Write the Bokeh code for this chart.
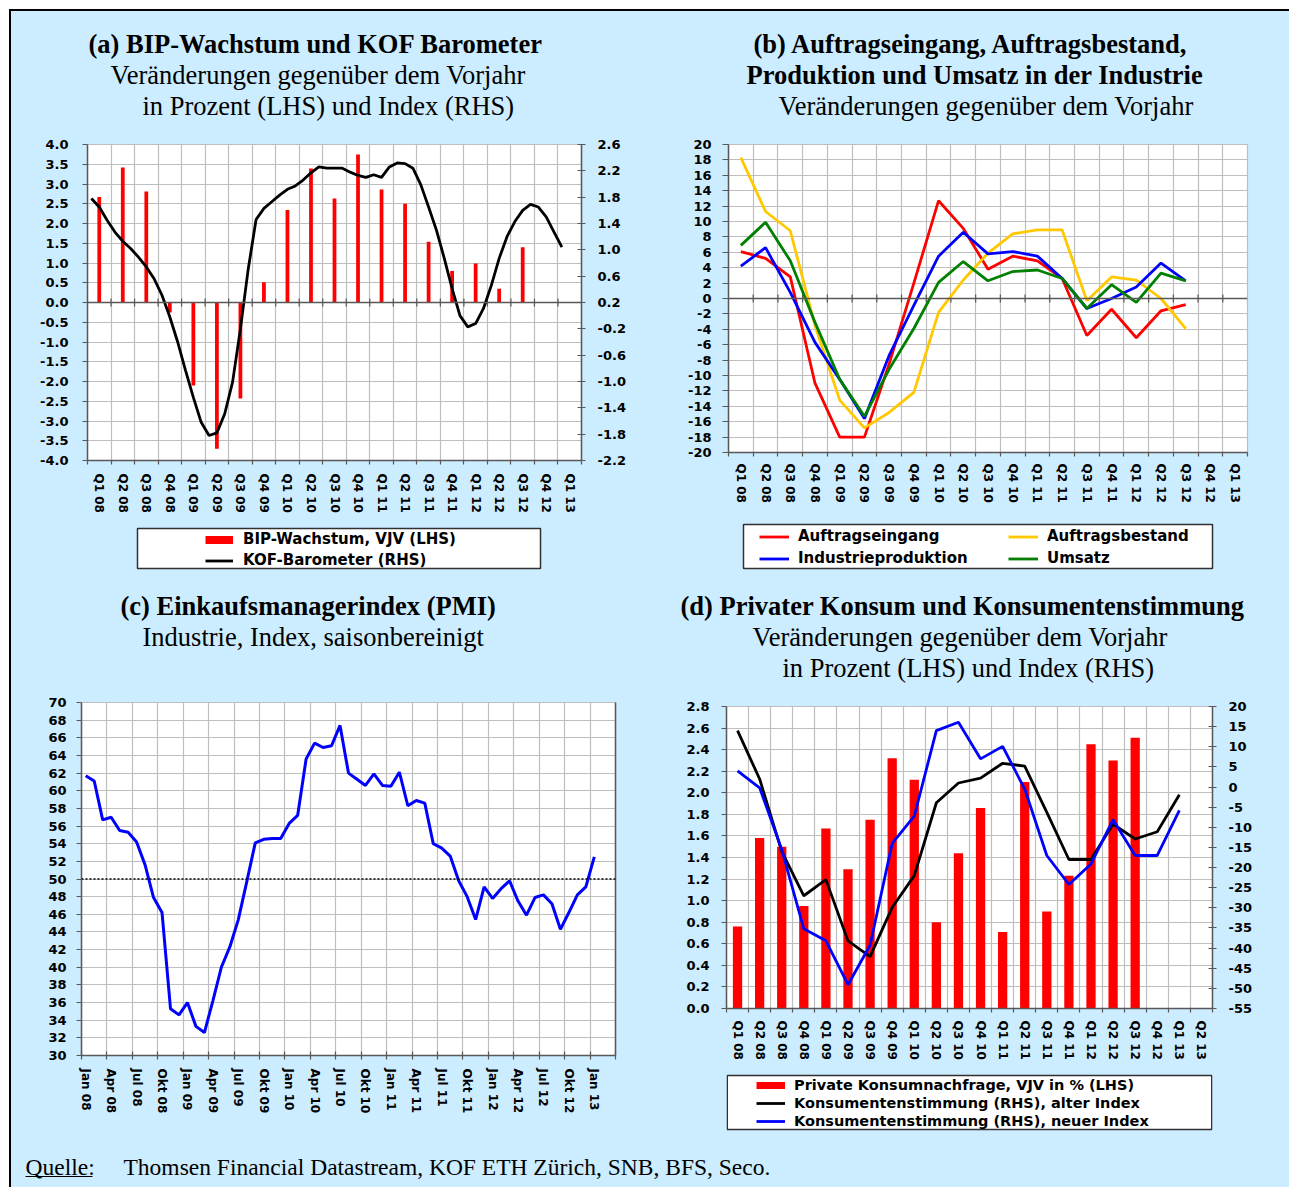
import numpy as np
from bokeh.plotting import figure
from bokeh.models import (Range1d, LinearAxis, FixedTicker, Span, Title, Legend,
                          LegendItem, Label, Spacer)
from bokeh.layouts import row, column
from bokeh.embed import file_html
from bokeh.resources import INLINE

# ---------------------------------------------------------------- data
quarters = ["Q1 08", "Q2 08", "Q3 08", "Q4 08", "Q1 09", "Q2 09", "Q3 09", "Q4 09",
            "Q1 10", "Q2 10", "Q3 10", "Q4 10", "Q1 11", "Q2 11", "Q3 11", "Q4 11",
            "Q1 12", "Q2 12", "Q3 12", "Q4 12", "Q1 13"]
quarters_d = quarters + ["Q2 13"]
months_c = ["Jan 08", "Apr 08", "Jul 08", "Okt 08", "Jan 09", "Apr 09", "Jul 09", "Okt 09",
            "Jan 10", "Apr 10", "Jul 10", "Okt 10", "Jan 11", "Apr 11", "Jul 11", "Okt 11",
            "Jan 12", "Apr 12", "Jul 12", "Okt 12", "Jan 13"]

# (a) quarterly GDP growth, monthly KOF barometer (Jan 08 .. Jan 13)
bip_growth = [2.67, 3.42, 2.81, -0.25, -2.10, -3.70, -2.43, 0.51, 2.34, 3.39,
              2.63, 3.75, 2.86, 2.50, 1.54, 0.80, 0.99, 0.35, 1.40]
kof_barometer = [1.78, 1.65, 1.45, 1.27, 1.13, 1.02, 0.89, 0.74, 0.56, 0.31,
                 -0.02, -0.40, -0.83, -1.24, -1.62, -1.82, -1.78, -1.49, -1.01, -0.20,
                 0.71, 1.46, 1.63, 1.73, 1.83, 1.92, 1.97, 2.06, 2.17, 2.26,
                 2.24, 2.24, 2.24, 2.18, 2.13, 2.10, 2.14, 2.10, 2.26, 2.32,
                 2.31, 2.24, 1.99, 1.65, 1.30, 0.87, 0.41, 0.00, -0.17, -0.12,
                 0.11, 0.46, 0.87, 1.20, 1.43, 1.60, 1.69, 1.65, 1.50, 1.27, 1.04]

# (b) industry, y/y change
auftragseingang = [6.1, 5.2, 2.8, -11.0, -18.0, -18.0, -8.5, 2.0, 12.7, 9.1,
                   3.8, 5.5, 4.9, 2.6, -4.8, -1.4, -5.1, -1.6, -0.8]
auftragsbestand = [18.3, 11.3, 8.8, -3.5, -13.2, -16.8, -14.8, -12.2, -1.8, 2.4,
                   5.9, 8.4, 8.9, 8.9, -0.3, 2.8, 2.4, 0.0, -3.9]
industrieproduktion = [4.2, 6.6, 0.8, -5.7, -10.5, -15.6, -7.4, -0.9, 5.5, 8.6,
                       5.8, 6.1, 5.5, 2.6, -1.3, 0.0, 1.5, 4.6, 2.3]
umsatz = [6.9, 9.9, 4.9, -3.1, -10.5, -15.3, -9.2, -3.9, 2.1, 4.8,
          2.3, 3.5, 3.7, 2.6, -1.3, 1.8, -0.5, 3.3, 2.3]

# (c) PMI, monthly Jan 08 .. Jan 13
pmi = [61.7, 61.1, 56.7, 57.0, 55.5, 55.3, 54.2, 51.6, 47.9, 46.2,
       35.3, 34.6, 36.0, 33.3, 32.6, 36.2, 40.0, 42.3, 45.4, 49.7,
       54.1, 54.5, 54.6, 54.6, 56.3, 57.2, 63.6, 65.4, 64.9, 65.1,
       67.4, 62.0, 61.3, 60.6, 61.9, 60.6, 60.5, 62.1, 58.3, 58.9,
       58.6, 54.0, 53.5, 52.6, 49.8, 48.0, 45.4, 49.1, 47.8, 48.9,
       49.8, 47.5, 45.9, 47.9, 48.2, 47.2, 44.3, 46.2, 48.2, 49.1, 52.5]
pmi_threshold = 50

# (d) private consumption and consumer sentiment
konsum = [0.76, 1.58, 1.50, 0.95, 1.67, 1.29, 1.75, 2.32, 2.12, 0.80,
          1.44, 1.86, 0.71, 2.10, 0.90, 1.23, 2.45, 2.30, 2.51]
stimmung_alt = [14.0, 2.0, -16.0, -27.0, -23.0, -38.2, -42.1, -29.9, -22.0, -3.9,
                1.0, 2.2, 5.9, 5.2, -6.3, -18.0, -18.0, -9.2, -12.9, -11.1, -1.9]
stimmung_neu = [4.0, -0.2, -15.5, -35.2, -38.2, -49.1, -39.3, -14.0, -7.2, 14.0,
                16.1, 7.0, 10.1, -0.5, -17.0, -24.2, -19.1, -8.1, -17.0, -17.0, -5.8]

# tick labels
ylab_a_left = ["4.0", "3.5", "3.0", "2.5", "2.0", "1.5", "1.0", "0.5", "0.0", "-0.5",
               "-1.0", "-1.5", "-2.0", "-2.5", "-3.0", "-3.5", "-4.0"]
ylab_a_right = ["2.6", "2.2", "1.8", "1.4", "1.0", "0.6", "0.2", "-0.2", "-0.6", "-1.0",
                "-1.4", "-1.8", "-2.2"]
ylab_b = ["20", "18", "16", "14", "12", "10", "8", "6", "4", "2", "0", "-2", "-4", "-6",
          "-8", "-10", "-12", "-14", "-16", "-18", "-20"]
ylab_c = ["70", "68", "66", "64", "62", "60", "58", "56", "54", "52", "50", "48", "46",
          "44", "42", "40", "38", "36", "34", "32", "30"]
ylab_d_left = ["2.8", "2.6", "2.4", "2.2", "2.0", "1.8", "1.6", "1.4", "1.2", "1.0",
               "0.8", "0.6", "0.4", "0.2", "0.0"]
ylab_d_right = ["20", "15", "10", "5", "0", "-5", "-10", "-15", "-20", "-25", "-30",
                "-35", "-40", "-45", "-50", "-55"]

# ---------------------------------------------------------------- styles
BG = "#CCECFF"
GRID = "#BEBEBE"
AXIS = "#585858"
RED = "#FF0000"
BLUE = "#0000FF"
YELLOW = "#FFC800"
GREEN = "#008000"
TICK_FONT = "DejaVu Sans"
SERIF = "Liberation Serif"
COLW = 639
BGSTYLE = {"background-color": BG}


def panel(width, height, left, right, top, bottom, xr, yr, outline=GRID):
    p = figure(width=width, height=height, x_range=Range1d(*xr), y_range=Range1d(*yr),
               toolbar_location=None, output_backend="svg", title=None,
               min_border_left=left, min_border_right=right,
               min_border_top=top, min_border_bottom=bottom,
               background_fill_color="white", border_fill_color=BG,
               outline_line_color=outline, outline_line_width=1.2)
    p.grid.grid_line_color = GRID
    p.grid.grid_line_width = 1.2
    return p


def style_y(ax, labels, tick_in, tick_out, standoff, size="13px"):
    ticks = [float(s) for s in labels]
    ax.ticker = FixedTicker(ticks=ticks)
    ax.major_label_overrides = dict(zip(ticks, labels))
    ax.major_tick_in = tick_in
    ax.major_tick_out = tick_out
    ax.minor_tick_line_color = None
    ax.major_tick_line_color = AXIS
    ax.major_tick_line_width = 1.2
    ax.axis_line_color = AXIS
    ax.axis_line_width = 1.5
    ax.major_label_standoff = standoff
    ax.major_label_text_font = TICK_FONT
    ax.major_label_text_font_style = "bold"
    ax.major_label_text_font_size = size
    ax.major_label_text_color = "black"


def style_x(p, bounds, positions, labels, tick_in, tick_out, standoff):
    ax = p.xaxis[0]
    ax.ticker = FixedTicker(ticks=bounds)
    ax.major_label_overrides = {b: "" for b in bounds}
    ax.major_label_text_font_size = "1px"
    ax.major_label_standoff = 0
    ax.major_tick_in = tick_in
    ax.major_tick_out = tick_out
    ax.minor_tick_line_color = None
    ax.major_tick_line_color = AXIS
    ax.major_tick_line_width = 1.2
    ax.axis_line_color = AXIS
    ax.axis_line_width = 1.5
    lab = LinearAxis(ticker=FixedTicker(ticks=positions),
                     major_label_overrides=dict(zip(positions, labels)),
                     major_tick_in=0, major_tick_out=0, minor_tick_line_color=None,
                     axis_line_color=None, major_label_orientation="vertical",
                     major_label_standoff=standoff, major_label_text_font=TICK_FONT,
                     major_label_text_font_style="bold", major_label_text_font_size="12px",
                     major_label_text_color="black")
    p.add_layout(lab, "below")


def add_titles(p, lines, gap):
    p.add_layout(Title(text=" ", text_font_size="1px", standoff=gap), "above")
    for text, bold, off in reversed(lines):
        p.add_layout(Title(text=text, align="left", offset=off, text_font=SERIF,
                           text_font_size="26.5px",
                           text_font_style="bold" if bold else "normal",
                           text_color="black", standoff=-1), "above")


def legend_strip(height, left, right, box, items, size, **kw):
    """A strip below a panel: its frame has the panel's horizontal extent
    (so that the column aligns both), the legend box is drawn in pixel units."""
    fw = COLW - left - right
    p = figure(width=COLW, height=height, x_range=Range1d(0, fw), y_range=Range1d(0, height),
               toolbar_location=None, output_backend="svg", title=None,
               x_axis_location=None, y_axis_location=None,
               min_border_left=left, min_border_right=right,
               min_border_top=0, min_border_bottom=0,
               background_fill_color=BG, border_fill_color=BG, outline_line_color=None)
    p.grid.visible = False
    bx0, bx1, by0, by1 = box
    p.quad(left=[bx0], right=[bx1], bottom=[by0], top=[by1], fill_color="white",
           line_color="#303030", line_width=1.5)
    litems = []
    for label, color, lw in items:
        r = p.line(x=[np.nan], y=[np.nan], line_color=color, line_width=lw)
        litems.append(LegendItem(label=label, renderers=[r]))
    leg = Legend(items=litems, padding=0, margin=0, border_line_color=None,
                 background_fill_alpha=0, label_text_font=TICK_FONT,
                 label_text_font_style="bold", label_text_font_size=size,
                 label_text_color="black", **kw)
    p.add_layout(leg)
    return p


# ---------------------------------------------------------------- (a)
nq = len(quarters)
q_pos = [i + 0.5 for i in range(nq)]
q_bounds = list(range(nq + 1))
ya = [float(s) for s in ylab_a_left]
yar = [float(s) for s in ylab_a_right]

pa = panel(COLW, 514, 76, 69, 133, 65, (0, nq), (min(ya), max(ya)))
pa.extra_y_ranges = {"kof": Range1d(min(yar), max(yar))}
style_x(pa, q_bounds, q_pos, quarters, 0, 4, 9)
style_y(pa.yaxis[0], ylab_a_left, 0, 5, 14)
rax = LinearAxis(y_range_name="kof")
style_y(rax, ylab_a_right, 4, 4, 12)
pa.add_layout(rax, "right")
pa.add_layout(Span(location=0, dimension="width", line_color=AXIS, line_width=1.5))
pa.scatter(x=q_bounds[1:-1], y=[0] * (nq - 1), marker="dash", angle=np.pi / 2, size=8,
           line_color=AXIS, line_width=1.2)
pa.vbar(x=q_pos[:len(bip_growth)], top=bip_growth, width=0.16, fill_color=RED, line_color=None)
kof_x = np.arange(len(kof_barometer)) / 3 + 1 / 6
pa.line(kof_x, kof_barometer, y_range_name="kof", line_color="black", line_width=2.8)
add_titles(pa, [("(a) BIP-Wachstum und KOF Barometer", True, 1),
                ("Veränderungen gegenüber dem Vorjahr", False, 23),
                ("in Prozent (LHS) und Index (RHS)", False, 55)], 21)

la = legend_strip(60, 76, 69, (50, 453, 17, 57),
                  [("BIP-Wachstum, VJV (LHS)", RED, 8), ("KOF-Barometer (RHS)", "black", 2.8)],
                  "15px", location=(118, 16), glyph_width=28, glyph_height=17, label_height=17,
                  label_standoff=10, spacing=3)

# ---------------------------------------------------------------- (b)
yb = [float(s) for s in ylab_b]
pb = panel(COLW, 511, 78, 42, 133, 70, (0, nq), (min(yb), max(yb)))
style_x(pb, q_bounds, q_pos, quarters, 0, 4, 7)
style_y(pb.yaxis[0], ylab_b, 0, 6, 11)
pb.add_layout(Span(location=0, dimension="width", line_color=AXIS, line_width=1.5))
pb.scatter(x=q_bounds[1:-1], y=[0] * (nq - 1), marker="dash", angle=np.pi / 2, size=8,
           line_color=AXIS, line_width=1.2)
for series, color in [(auftragseingang, RED), (auftragsbestand, YELLOW),
                      (industrieproduktion, BLUE), (umsatz, GREEN)]:
    pb.line(q_pos[:len(series)], series, line_color=color, line_width=2.8)
add_titles(pb, [("(b) Auftragseingang, Auftragsbestand,", True, 25),
                ("Produktion und Umsatz in der Industrie", True, 18),
                ("Veränderungen gegenüber dem Vorjahr", False, 50)], 21)

lb = legend_strip(63, 78, 42, (15, 484, 17, 61),
                  [("Auftragseingang", RED, 2.8), ("Industrieproduktion", BLUE, 2.8),
                   ("Auftragsbestand", YELLOW, 2.8), ("Umsatz", GREEN, 2.8)],
                  "15px", location=(31, 18), glyph_width=30, glyph_height=17, label_height=17,
                  label_standoff=9, spacing=4, label_width=206, nrows=2)

# ---------------------------------------------------------------- (c)
yc = [float(s) for s in ylab_c]
nm = len(months_c) * 3
c_bounds = [3 * k - 0.5 for k in range(len(months_c) + 1)]
c_pos = [3 * k for k in range(len(months_c))]
pc = panel(COLW, 565, 70, 35, 117, 95, (-0.5, nm - 0.5), (min(yc), max(yc)))
style_x(pc, c_bounds, c_pos, months_c, 4, 4, 9)
style_y(pc.yaxis[0], ylab_c, 0, 5, 10)
rc = LinearAxis(ticker=FixedTicker(ticks=[]), axis_line_color=AXIS, axis_line_width=1.5,
                major_label_text_font_size="1px", minor_tick_line_color=None)
pc.add_layout(rc, "right")
pc.add_layout(Span(location=pmi_threshold, dimension="width", line_color="black",
                   line_width=1.5, line_dash="2 2"))
pc.line(np.arange(len(pmi)), pmi, line_color=BLUE, line_width=3)
add_titles(pc, [("(c) Einkaufsmanagerindex (PMI)", True, 39),
                ("Industrie, Index, saisonbereinigt", False, 61)], 48)

# ---------------------------------------------------------------- (d)
nd = len(quarters_d)
d_pos = [i + 0.5 for i in range(nd)]
d_bounds = list(range(nd + 1))
yd = [float(s) for s in ylab_d_left]
ydr = [float(s) for s in ylab_d_right]
pd_ = panel(COLW, 487, 76, 77, 121, 64, (0, nd), (min(yd), max(yd)))
pd_.extra_y_ranges = {"stimmung": Range1d(min(ydr), max(ydr))}
style_x(pd_, d_bounds, d_pos, quarters_d, 0, 4, 8)
style_y(pd_.yaxis[0], ylab_d_left, 0, 5, 12)
rdx = LinearAxis(y_range_name="stimmung")
style_y(rdx, ylab_d_right, 4, 4, 12)
pd_.add_layout(rdx, "right")
pd_.vbar(x=d_pos[:len(konsum)], top=konsum, width=0.42, fill_color=RED, line_color=None)
pd_.line(d_pos[:len(stimmung_alt)], stimmung_alt, y_range_name="stimmung",
         line_color="black", line_width=2.8)
pd_.line(d_pos[:len(stimmung_neu)], stimmung_neu, y_range_name="stimmung",
         line_color=BLUE, line_width=2.8)
add_titles(pd_, [("(d) Privater Konsum und Konsumentenstimmung", True, -46),
                 ("Veränderungen gegenüber dem Vorjahr", False, 26),
                 ("in Prozent (LHS) und Index (RHS)", False, 56)], 21)

ld = legend_strip(78, 76, 77, (0.75, 485.25, 21, 75),
                  [("Private Konsumnachfrage, VJV in % (LHS)", RED, 7),
                   ("Konsumentenstimmung (RHS), alter Index", "black", 2.8),
                   ("Konsumentenstimmung (RHS), neuer Index", BLUE, 2.8)],
                  "14.5px", location=(30, 21), glyph_width=29, glyph_height=16, label_height=16,
                  label_standoff=9, spacing=2)

# ---------------------------------------------------------------- footer
FW, FH = 2 * COLW, 37
foot = figure(width=FW, height=FH, x_range=Range1d(0, FW), y_range=Range1d(0, FH),
              toolbar_location=None, output_backend="svg", title=None,
              x_axis_location=None, y_axis_location=None, min_border=0,
              background_fill_color=BG, border_fill_color=BG, outline_line_color=None)
foot.grid.visible = False
foot.add_layout(Label(x=14, y=21, text="Quelle:", text_font=SERIF, text_font_size="23.5px",
                      text_baseline="middle", text_color="black"))
foot.add_layout(Label(x=112, y=21,
                      text="Thomsen Financial Datastream, KOF ETH Zürich, SNB, BFS, Seco.",
                      text_font=SERIF, text_font_size="23.5px", text_baseline="middle",
                      text_color="black"))
foot.segment(x0=[14], y0=[11], x1=[81], y1=[11], line_color="black", line_width=1.2)

# ---------------------------------------------------------------- layout
content = column(row(column(pa, la, styles=BGSTYLE), column(pb, lb, styles=BGSTYLE),
                     styles=BGSTYLE),
                 row(pc, column(pd_, ld, styles=BGSTYLE), styles=BGSTYLE),
                 foot, styles=BGSTYLE)
framed = row(Spacer(width=2, height=1178, styles={"background-color": "black"}),
             column(Spacer(width=FW, height=2, styles={"background-color": "black"}), content,
                    styles=BGSTYLE))
outer = column(Spacer(width=1289, height=9), row(Spacer(width=9, height=1178), framed))

open("out.html", "w").write(file_html(outer, INLINE))
